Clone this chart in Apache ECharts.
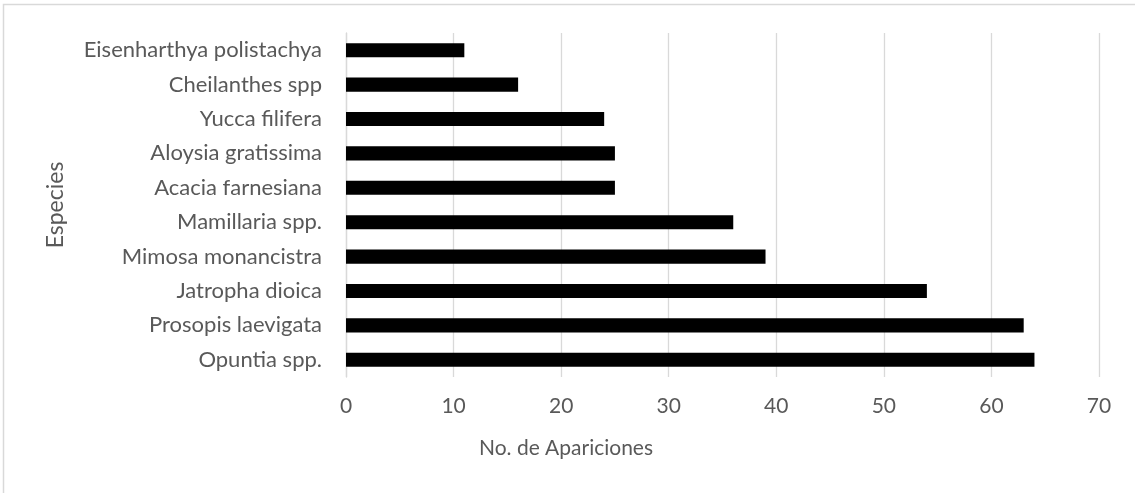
<!DOCTYPE html>
<html>
<head>
<meta charset="utf-8">
<script src="https://cdn.jsdelivr.net/npm/echarts@6/dist/echarts.min.js"></script>
<style>
  html, body { margin: 0; padding: 0; background: #fff; }
  #chart { width: 1135px; height: 493px; }
</style>
</head>
<body>
<div id="chart"></div>
<script>
// Species, listed bottom to top as they appear on the category axis
const especies = [
  'Opuntia spp.',
  'Prosopis laevigata',
  'Jatropha dioica',
  'Mimosa monancistra',
  'Mamillaria spp.',
  'Acacia farnesiana',
  'Aloysia gratissima',
  'Yucca filifera',
  'Cheilanthes spp',
  'Eisenharthya polistachya'
];
// Number of appearances per species
const apariciones = [64, 63, 54, 39, 36, 25, 25, 24, 16, 11];
// Value axis range
const ejeMin = 0;
const ejeMax = 70;
const ejePaso = 10;

const textColor = '#595959';
const gridColor = '#d9d9d9';
const fontFamily = 'Lato, "Open Sans", sans-serif';

const chart = echarts.init(document.getElementById('chart'), null, { renderer: 'canvas' });
chart.setOption({
  animation: false,
  backgroundColor: '#fff',
  grid: { left: 346, right: 36, top: 33, bottom: 116, containLabel: false },
  xAxis: {
    type: 'value',
    min: ejeMin,
    max: ejeMax,
    interval: ejePaso,
    axisLine: { show: false },
    axisTick: { show: false },
    splitLine: { show: true, lineStyle: { color: gridColor, width: 1.3 } },
    axisLabel: { color: textColor, fontFamily, fontSize: 21, margin: 19 }
  },
  yAxis: {
    type: 'category',
    data: especies,
    axisLine: { show: true, lineStyle: { color: gridColor, width: 1.3 } },
    axisTick: { show: false },
    axisLabel: { color: textColor, fontFamily, fontSize: 22, margin: 24 },
    name: 'Especies',
    nameLocation: 'middle',
    nameRotate: 90,
    nameGap: 279,
    nameTextStyle: { color: textColor, fontFamily, fontSize: 23 }
  },
  series: [{
    type: 'bar',
    data: apariciones,
    barWidth: '41%',
    itemStyle: { color: '#000' }
  }],
  graphic: [
    {
      type: 'rect',
      shape: { x: 3.5, y: 4.5, width: 1200, height: 600 },
      style: { fill: 'none', stroke: gridColor, lineWidth: 1.5 },
      silent: true
    },
    {
      type: 'text',
      x: 566,
      y: 448,
      style: {
        text: 'No. de Apariciones',
        fill: textColor,
        font: '21px ' + fontFamily,
        textAlign: 'center',
        textVerticalAlign: 'middle'
      },
      silent: true
    }
  ]
});
</script>
</body>
</html>
